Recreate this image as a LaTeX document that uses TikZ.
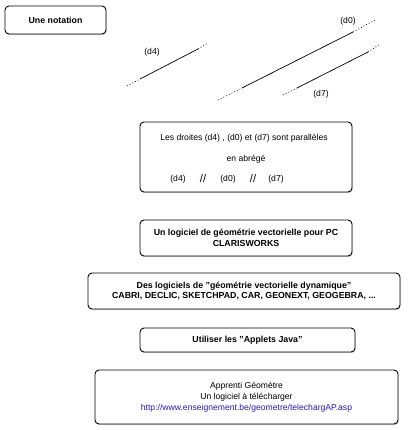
\documentclass[tikz,border=0pt]{standalone}
\usepackage{fontspec}
\setmainfont{Liberation Sans}
\usetikzlibrary{shadows}
\definecolor{urlblue}{RGB}{30,30,200}
\begin{document}
\begin{tikzpicture}[x=1pt,y=-1pt,
  card/.style={draw=black,line width=0.9pt,rounded corners=4pt,fill=white,
    drop shadow={shadow xshift=0.6pt,shadow yshift=-1.2pt,opacity=0.35}},
  lbl/.style={font=\fontsize{8.6}{11}\selectfont,inner sep=0pt},
  blbl/.style={font=\fontsize{8.8}{10.5}\selectfont\bfseries,inner sep=0pt,align=center},
  solidseg/.style={line width=0.7pt},
  dotseg/.style={line width=0.6pt,dash pattern=on 1pt off 2pt}]
\useasboundingbox (0,0) rectangle (411,430);

% box 1
\node[card,minimum width=101pt,minimum height=28pt] (b1) at (55.5,20) {};
\node[blbl] (t1) at (b1.center) {Une notation};

% lines
\coordinate (d4a) at (127,86); \coordinate (d4b) at (140,79);
\coordinate (d4c) at (198,49); \coordinate (d4d) at (208,43);
\draw[dotseg] (d4a) -- (d4b); \draw[solidseg] (d4b) -- (d4c); \draw[dotseg] (d4c) -- (d4d);
\node[lbl] (l4) at (152,52) {(d4)};

\coordinate (d0a) at (218,100); \coordinate (d0b) at (242,88);
\coordinate (d0c) at (353,32); \coordinate (d0d) at (375,20);
\draw[dotseg] (d0a) -- (d0b); \draw[solidseg] (d0b) -- (d0c); \draw[dotseg] (d0c) -- (d0d);
\node[lbl] (l0) at (348,21) {(d0)};

\coordinate (d7a) at (283,95); \coordinate (d7b) at (297,88);
\coordinate (d7c) at (368,52); \coordinate (d7d) at (380,44);
\draw[dotseg] (d7a) -- (d7b); \draw[solidseg] (d7b) -- (d7c); \draw[dotseg] (d7c) -- (d7d);
\node[lbl] (l7) at (321,94) {(d7)};

% box 2
\node[card,minimum width=212pt,minimum height=70pt] (b2) at (246,157) {};
\node[lbl] (t2a) at (244,138) {Les droites (d4) , (d0) et (d7) sont parallèles};
\node[lbl] (t2b) at (246,159) {en abrégé};
\node[lbl] (p1) at (178,179) {(d4)};
\node[lbl,font=\fontsize{11}{12}\selectfont] (p2) at (203,179) {//};
\node[lbl] (p3) at (228,179) {(d0)};
\node[lbl,font=\fontsize{11}{12}\selectfont] (p4) at (253,179) {//};
\node[lbl] (p5) at (276,179) {(d7)};

% box 3
\node[card,minimum width=212pt,minimum height=36pt] (b3) at (246,238) {};
\node[blbl] (t3) at (b3.center) {Un logiciel de géométrie vectorielle pour PC\\CLARISWORKS};

% box 4
\node[card,minimum width=312pt,minimum height=36pt] (b4) at (244,291) {};
\node[blbl] (t4) at (b4.center) {Des logiciels de "géométrie vectorielle dynamique"\\CABRI, DECLIC, SKETCHPAD, CAR, GEONEXT, GEOGEBRA, ...};

% box 5
\node[card,minimum width=215pt,minimum height=24pt] (b5) at (247.5,340) {};
\node[blbl] (t5) at (b5.center) {Utiliser les "Applets Java"};

% box 6
\node[card,minimum width=303pt,minimum height=54pt] (b6) at (246.5,397) {};
\node[lbl,align=center] (t6) at (b6.center) {Apprenti Géomètre\\Un logiciel à télécharger\\\textcolor{urlblue}{http://www.enseignement.be/geometre/telechargAP.asp}};
\end{tikzpicture}
\end{document}
